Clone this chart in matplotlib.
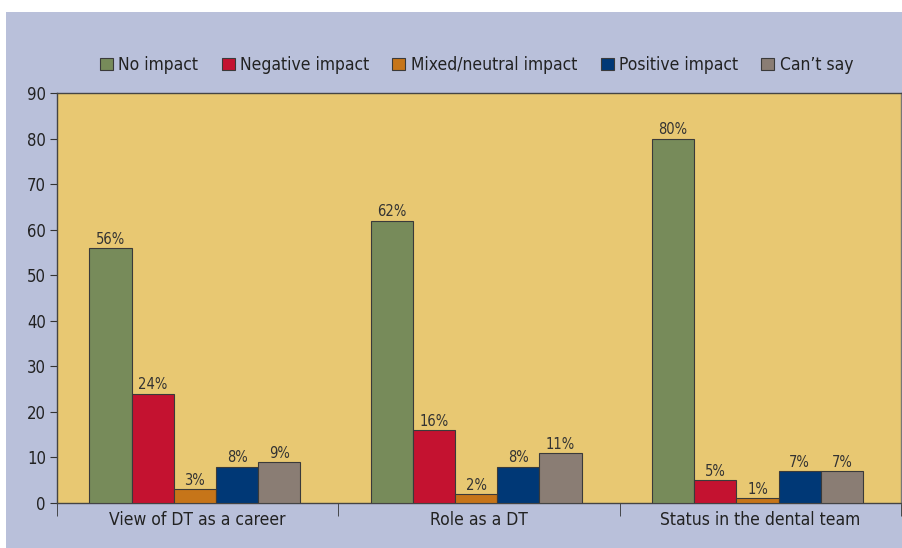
import matplotlib
matplotlib.use("Agg")
import matplotlib.pyplot as plt
import numpy as np
from matplotlib.patches import Rectangle

categories = ["View of DT as a career", "Role as a DT", "Status in the dental team"]
series_names = ["No impact", "Negative impact", "Mixed/neutral impact", "Positive impact", "Can\u2019t say"]
no_impact = [56, 62, 80]
negative_impact = [24, 16, 5]
mixed_impact = [3, 2, 1]
positive_impact = [8, 8, 7]
cant_say = [9, 11, 7]
series_values = [no_impact, negative_impact, mixed_impact, positive_impact, cant_say]
colors = ["#778B5A", "#C41230", "#C67519", "#003876", "#8A7D74"]
yticks = [0, 10, 20, 30, 40, 50, 60, 70, 80, 90]

plt.rcParams['font.family'] = ['DejaVu Sans']
plt.rcParams['font.stretch'] = 'condensed'

fig = plt.figure(figsize=(9.03, 5.48), dpi=100)
fig.patch.set_facecolor("white")
fig.add_artist(Rectangle((6/903, 0), 1 - 6/903, 1 - 12/548, transform=fig.transFigure,
                         facecolor="#B9C0DA", edgecolor="none", zorder=0))

ax = fig.add_axes([57/903, (548-503)/548, (901-57)/903, (503-93)/548])
ax.set_facecolor("#E8C872")

n = len(series_values)
bw = 0.15
x = np.arange(len(categories))
for i, (vals, c) in enumerate(zip(series_values, colors)):
    pos = x + (i - (n - 1) / 2) * bw - 0.01
    bars = ax.bar(pos, vals, width=bw, color=c, edgecolor="#3a3a3a", linewidth=0.8,
                  label=series_names[i], zorder=3)
    for b, v in zip(bars, vals):
        ax.text(b.get_x() + b.get_width() / 2, v + 0.3, f"{v}%", ha="center", va="bottom",
                fontsize=10.5, color="#333333", zorder=4)

ax.set_xlim(-0.5, len(categories) - 0.5)
ax.set_ylim(0, 90)
ax.set_yticks(yticks)
ax.tick_params(axis="y", labelsize=12, length=5, color="#333333", labelcolor="#222222", pad=3)
ax.set_xticks(x)
ax.set_xticklabels(categories, fontsize=12.5, color="#222222")
ax.tick_params(axis="x", length=0, pad=6)
ax.set_xticks(np.arange(len(categories) + 1) - 0.5, minor=True)
ax.tick_params(axis="x", which="minor", length=9, color="#333333", direction="out")
for s in ax.spines.values():
    s.set_color("#444444")
    s.set_linewidth(1.0)
ax.spines["right"].set_color("#777777")

leg = ax.legend(loc="lower center", bbox_to_anchor=(0.497, 1.008), ncol=5, frameon=False,
                fontsize=12.5, handlelength=0.75, handleheight=0.75, handletextpad=0.3,
                columnspacing=1.35, labelcolor="#222222")

fig.savefig("out.png", dpi=100)
